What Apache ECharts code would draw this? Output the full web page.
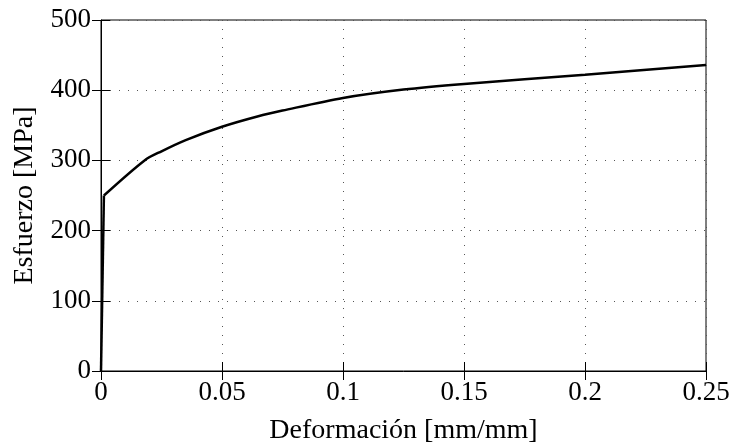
<!DOCTYPE html>
<html>
<head>
<meta charset="utf-8">
<script src="https://cdn.jsdelivr.net/npm/echarts@6/dist/echarts.min.js"></script>
<style>
    html, body { margin: 0; padding: 0; background: #fff; }
    #id-div-chart { width: 738px; height: 448px; }
</style>
</head>
<body>
<div id="id-div-chart"></div>
<script>
var log = console.log.bind(console)

var e = (selector) => document.querySelector(selector)

// 曲线数据, 从图上读出来的
// 弹性段: 前两个点, 塑性段: 从第二个点开始
var strain = [0, 0.0012, 0.018, 0.025, 0.035, 0.05, 0.065, 0.075, 0.1, 0.125, 0.15, 0.2, 0.25]
var stress = [0, 250, 300, 313, 329, 348, 363, 371, 389, 401, 409, 422, 436]

var xTicks = [0, 0.05, 0.1, 0.15, 0.2, 0.25]
var yTicks = [0, 100, 200, 300, 400, 500]

var font = 'Liberation Serif, Times New Roman, serif'

var dotted = {
    show: true,
    lineStyle: {
        color: '#555',
        width: 1,
        type: [1, 8],
    },
}

var tickIn = {
    show: true,
    inside: true,
    length: 9,
    lineStyle: { color: '#000', width: 1 },
}

var points = function(start, end) {
    var d = []
    for (var i = start; i < end; i++) {
        d.push([strain[i], stress[i]])
    }
    return d
}

var formattedOption = function() {
    var xMin = xTicks[0]
    var xMax = xTicks[xTicks.length - 1]
    var yMin = yTicks[0]
    var yMax = yTicks[yTicks.length - 1]
    var option = {
        animation: false,
        backgroundColor: '#fff',
        grid: {
            left: 101,
            right: 32,
            top: 20,
            bottom: 77,
            outerBoundsMode: 'none',
            show: true,
            borderColor: '#000',
            borderWidth: 1,
        },
        xAxis: [
            {
                type: 'value',
                min: xMin,
                max: xMax,
                interval: 0.05,
                name: 'Deformación [mm/mm]',
                nameLocation: 'middle',
                nameGap: 46,
                nameTextStyle: { fontFamily: font, fontSize: 28, color: '#000' },
                axisLine: { show: true, lineStyle: { color: '#000', width: 1 } },
                axisTick: tickIn,
                axisLabel: {
                    fontFamily: font,
                    fontSize: 27,
                    color: '#000',
                    margin: 8,
                    formatter: (v) => String(+v.toFixed(2)),
                },
                splitLine: dotted,
            },
            {
                type: 'value',
                position: 'top',
                min: xMin,
                max: xMax,
                interval: 0.05,
                axisLine: { show: false },
                axisTick: tickIn,
                axisLabel: { show: false },
                splitLine: { show: false },
            },
        ],
        yAxis: [
            {
                type: 'value',
                min: yMin,
                max: yMax,
                interval: 100,
                name: 'Esfuerzo [MPa]',
                nameLocation: 'middle',
                nameGap: 62,
                nameTextStyle: { fontFamily: font, fontSize: 28, color: '#000' },
                axisLine: { show: true, lineStyle: { color: '#000', width: 1 } },
                axisTick: tickIn,
                axisLabel: {
                    fontFamily: font,
                    fontSize: 27,
                    color: '#000',
                    margin: 10,
                },
                splitLine: dotted,
            },
            {
                type: 'value',
                position: 'right',
                min: yMin,
                max: yMax,
                interval: 100,
                axisLine: { show: false },
                axisTick: tickIn,
                axisLabel: { show: false },
                splitLine: { show: false },
            },
        ],
        series: [
            {
                type: 'line',
                data: points(0, 2),
                showSymbol: false,
                lineStyle: { color: '#000', width: 2.5 },
                z: 5,
            },
            {
                type: 'line',
                data: points(1, strain.length),
                showSymbol: false,
                smooth: 0.3,
                lineStyle: { color: '#000', width: 2.5 },
                z: 5,
            },
        ],
    }
    return option
}

var __main = function() {
    var chart = echarts.init(e('#id-div-chart'), null, { renderer: 'canvas' })
    chart.setOption(formattedOption())
}

__main()
</script>
</body>
</html>
